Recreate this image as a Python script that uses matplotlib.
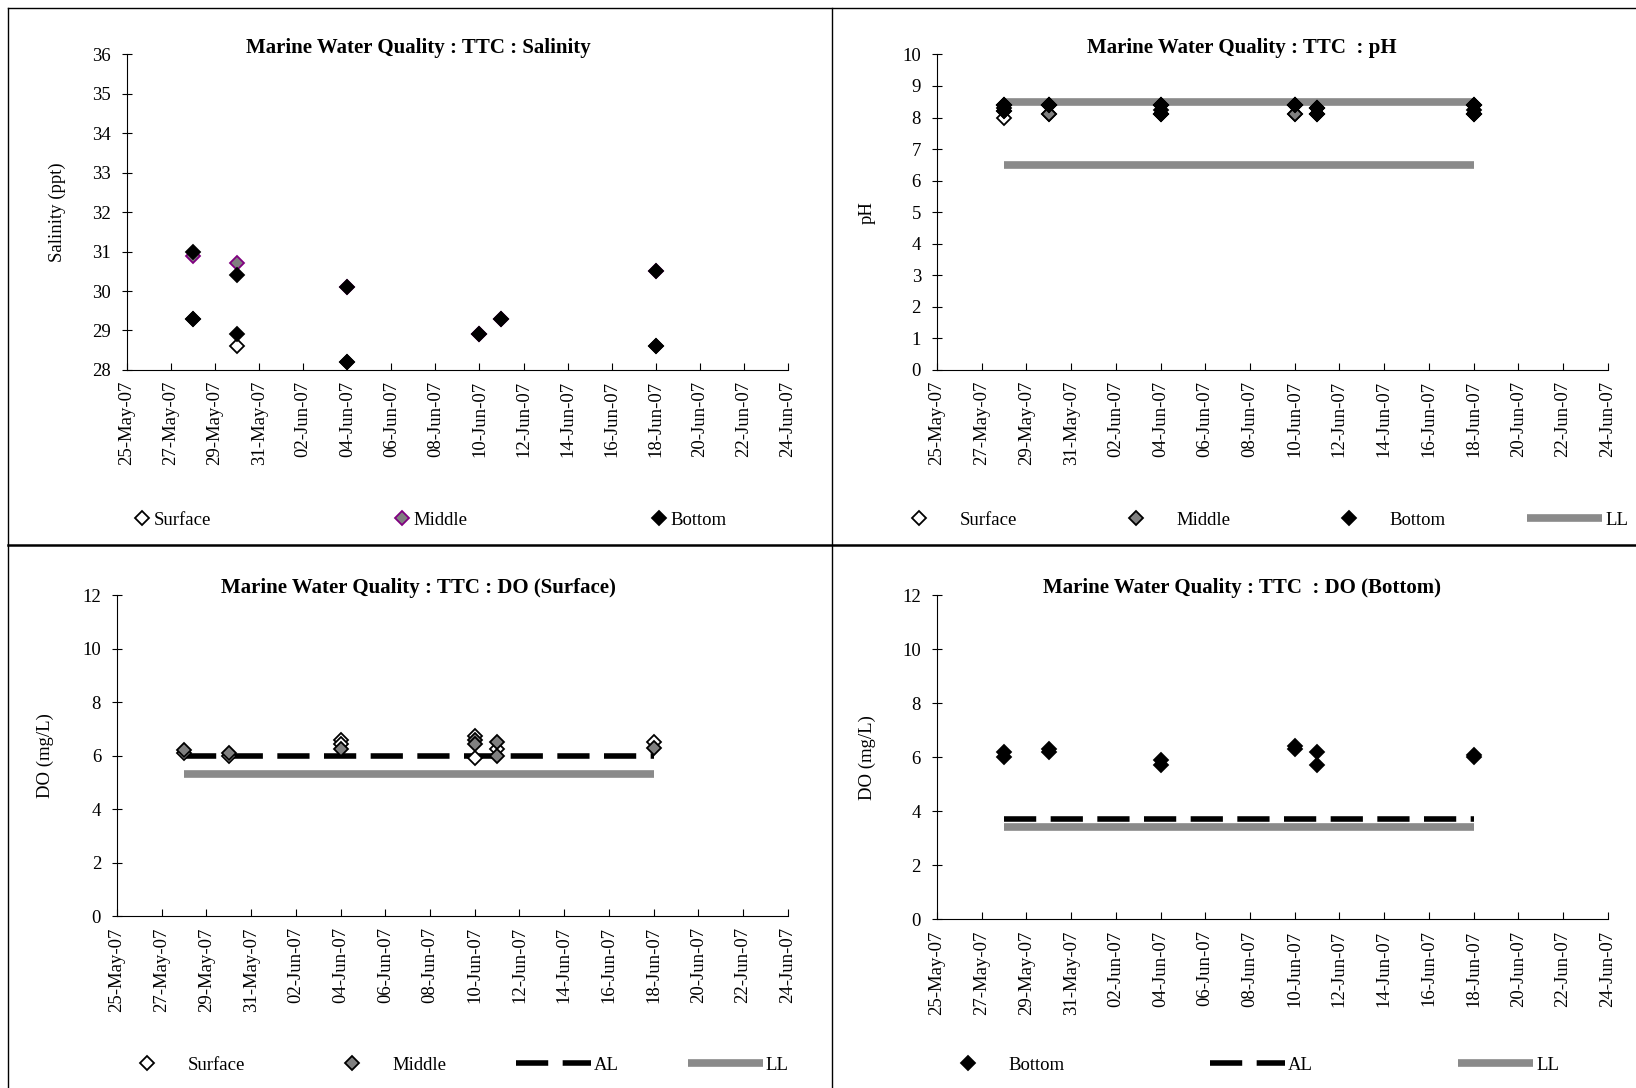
import matplotlib
matplotlib.use('Agg')
import matplotlib.pyplot as plt
import pandas as pd
from matplotlib.dates import DateFormatter
from matplotlib.lines import Line2D

plt.rcParams['font.family'] = ['Liberation Serif', 'DejaVu Serif']

# ---- data ----
sal_surface_dates = ['2007-05-28', '2007-05-30', '2007-06-04', '2007-06-10', '2007-06-11', '2007-06-18']
sal_surface = [29.3, 28.6, 28.2, 28.9, 29.3, 28.6]
sal_middle_dates = ['2007-05-28', '2007-05-30', '2007-06-04', '2007-06-10', '2007-06-11', '2007-06-18']
sal_middle = [30.9, 30.7, 30.1, 28.9, 29.3, 30.5]
sal_bottom_dates = ['2007-05-28', '2007-05-28', '2007-05-30', '2007-05-30', '2007-06-04', '2007-06-04',
                    '2007-06-10', '2007-06-11', '2007-06-18', '2007-06-18']
sal_bottom = [31.0, 29.3, 30.4, 28.9, 30.1, 28.2, 28.9, 29.3, 30.5, 28.6]

ph_dates = ['2007-05-28', '2007-05-28', '2007-05-30', '2007-05-30', '2007-06-04', '2007-06-04',
            '2007-06-10', '2007-06-10', '2007-06-11', '2007-06-11', '2007-06-18', '2007-06-18']
ph_surface = [8.0, 8.4, 8.4, 8.1, 8.1, 8.4, 8.4, 8.1, 8.1, 8.3, 8.1, 8.4]
ph_middle = [8.2, 8.4, 8.4, 8.1, 8.1, 8.4, 8.4, 8.1, 8.1, 8.3, 8.1, 8.4]
ph_bottom = [8.2, 8.4, 8.4, 8.4, 8.1, 8.4, 8.4, 8.4, 8.1, 8.3, 8.1, 8.4]
ph_dates_3 = ['2007-05-28', '2007-06-04', '2007-06-18']
ph_bottom_mid = [8.3, 8.25, 8.25]

limit_dates = ['2007-05-28', '2007-05-30', '2007-06-04', '2007-06-10', '2007-06-11', '2007-06-18']
ph_ul = [8.5, 8.5, 8.5, 8.5, 8.5, 8.5]
ph_ll = [6.5, 6.5, 6.5, 6.5, 6.5, 6.5]

dos_surface_dates = ['2007-05-28', '2007-05-30', '2007-06-04', '2007-06-04', '2007-06-10', '2007-06-10',
                     '2007-06-11', '2007-06-18']
dos_surface = [6.1, 6.0, 6.6, 6.45, 6.75, 5.9, 6.25, 6.5]
dos_middle_dates = ['2007-05-28', '2007-05-30', '2007-06-04', '2007-06-10', '2007-06-10', '2007-06-11',
                    '2007-06-11', '2007-06-18']
dos_middle = [6.2, 6.1, 6.25, 6.6, 6.45, 6.5, 6.0, 6.3]
dos_al = [6.0, 6.0, 6.0, 6.0, 6.0, 6.0]
dos_ll = [5.3, 5.3, 5.3, 5.3, 5.3, 5.3]

dob_dates = ['2007-05-28', '2007-05-28', '2007-05-30', '2007-05-30', '2007-06-04', '2007-06-04',
             '2007-06-10', '2007-06-10', '2007-06-11', '2007-06-11', '2007-06-18', '2007-06-18']
dob_bottom = [6.2, 6.0, 6.3, 6.2, 5.9, 5.7, 6.4, 6.3, 6.2, 5.7, 6.1, 6.0]
dob_al = [3.7, 3.7, 3.7, 3.7, 3.7, 3.7]
dob_ll = [3.4, 3.4, 3.4, 3.4, 3.4, 3.4]

x_ticks = pd.date_range('2007-05-25', '2007-06-24', freq='2D')

FS = 13.5
MS = 7
MEW = 1.3
GREY_LINE = '#8a8a8a'
AL_DASH = (5.8, 2.6)


def d(lst):
    return pd.to_datetime(lst)


def style_axes(ax, ymin, ymax, ystep, ylabel, lab_x):
    ax.set_xlim(x_ticks[0], x_ticks[-1])
    ax.set_ylim(ymin, ymax)
    ax.set_xticks(x_ticks)
    ax.xaxis.set_major_formatter(DateFormatter('%d-%b-%y'))
    ax.set_yticks(range(ymin, ymax + 1, ystep))
    for lab in ax.get_xticklabels():
        lab.set_rotation(90)
    ax.tick_params(axis='x', direction='in', length=5, pad=8, labelsize=FS)
    ax.tick_params(axis='y', direction='inout', length=7, pad=8, labelsize=FS)
    ax.spines['top'].set_visible(False)
    ax.spines['right'].set_visible(False)
    ax.set_ylabel(ylabel, fontsize=FS)
    ax.yaxis.set_label_coords(lab_x, 0.5)
    ax.patch.set_visible(False)


def surf(ax, x, y, **kw):
    return ax.plot(d(x), y, ls='none', marker='D', ms=MS, mfc='white', mec='black', mew=MEW, **kw)[0]


def mid(ax, x, y, edge='black', **kw):
    return ax.plot(d(x), y, ls='none', marker='D', ms=MS, mfc='#808080', mec=edge, mew=MEW, **kw)[0]


def bot(ax, x, y, **kw):
    return ax.plot(d(x), y, ls='none', marker='D', ms=MS, mfc='black', mec='black', mew=MEW, **kw)[0]


fig = plt.figure(figsize=(16.36, 10.88), dpi=100)

# panel 1 : salinity
ax1 = fig.add_axes([0.0776, 0.660, 0.404, 0.290])
h1 = surf(ax1, sal_surface_dates, sal_surface, label='Surface')
h2 = mid(ax1, sal_middle_dates, sal_middle, edge='#800080', label='Middle')
h3 = bot(ax1, sal_bottom_dates, sal_bottom, label='Bottom')
style_axes(ax1, 28, 36, 1, 'Salinity (ppt)', -0.092)
fig.legend(handles=[h1, h2, h3], loc='center left', bbox_to_anchor=(0.0813, 0.522), ncol=3,
           frameon=False, fontsize=FS, handlelength=1, handletextpad=0.1, columnspacing=9.7,
           borderpad=0, borderaxespad=0)

# panel 2 : pH
ax2 = fig.add_axes([0.5727, 0.660, 0.410, 0.290])
ax2.plot(d(limit_dates), ph_ul, color=GREY_LINE, lw=5.5, solid_capstyle='butt')
ll2 = ax2.plot(d(limit_dates), ph_ll, color=GREY_LINE, lw=5.5, solid_capstyle='butt', label='LL')[0]
p1 = surf(ax2, ph_dates, ph_surface, label='Surface')
p2 = mid(ax2, ph_dates, ph_middle, label='Middle')
p3 = bot(ax2, ph_dates, ph_bottom, label='Bottom')
bot(ax2, ph_dates_3, ph_bottom_mid)
style_axes(ax2, 0, 10, 1, 'pH', -0.091)
fig.legend(handles=[p1, p2, p3, ll2], loc='center left', bbox_to_anchor=(0.539, 0.522), ncol=4,
           frameon=False, fontsize=FS, handlelength=4, handletextpad=0.15, columnspacing=4.35,
           borderpad=0, borderaxespad=0)

# panel 3 : DO surface
ax3 = fig.add_axes([0.0715, 0.158, 0.410, 0.295])
ll3 = ax3.plot(d(limit_dates), dos_ll, color=GREY_LINE, lw=5.5, solid_capstyle='butt', label='LL')[0]
al3 = ax3.plot(d(limit_dates), dos_al, color='black', lw=4, dashes=AL_DASH, dash_capstyle='butt', label='AL')[0]
s1 = surf(ax3, dos_surface_dates, dos_surface, label='Surface')
s2 = mid(ax3, dos_middle_dates, dos_middle, label='Middle')
style_axes(ax3, 0, 12, 2, 'DO (mg/L)', -0.094)
fig.legend(handles=[s1, s2, al3, ll3], loc='center left', bbox_to_anchor=(0.0672, 0.021), ncol=4,
           frameon=False, fontsize=FS, handlelength=4, handletextpad=0.15, columnspacing=3.7,
           borderpad=0, borderaxespad=0)

# panel 4 : DO bottom
ax4 = fig.add_axes([0.5727, 0.155, 0.410, 0.298])
ll4 = ax4.plot(d(limit_dates), dob_ll, color=GREY_LINE, lw=5.5, solid_capstyle='butt', label='LL')[0]
al4 = ax4.plot(d(limit_dates), dob_al, color='black', lw=4, dashes=AL_DASH, dash_capstyle='butt', label='AL')[0]
b1 = bot(ax4, dob_dates, dob_bottom, label='Bottom')
style_axes(ax4, 0, 12, 2, 'DO (mg/L)', -0.091)
fig.legend(handles=[b1, al4, ll4], loc='center left', bbox_to_anchor=(0.569, 0.021), ncol=3,
           frameon=False, fontsize=FS, handlelength=4, handletextpad=0.15, columnspacing=7.75,
           borderpad=0, borderaxespad=0)

# titles
fig.text(0.256, 0.9555, 'Marine Water Quality : TTC : Salinity', ha='center', va='center',
         fontsize=15, fontweight='bold')
fig.text(0.759, 0.9555, 'Marine Water Quality : TTC  : pH', ha='center', va='center',
         fontsize=15, fontweight='bold')
fig.text(0.256, 0.4600, 'Marine Water Quality : TTC : DO (Surface)', ha='center', va='center',
         fontsize=15, fontweight='bold')
fig.text(0.759, 0.4600, 'Marine Water Quality : TTC  : DO (Bottom)', ha='center', va='center',
         fontsize=15, fontweight='bold')

# panel frames
fig.add_artist(Line2D([0.0049, 0.0049], [0, 0.9926], color='black', lw=1))
fig.add_artist(Line2D([0.0049, 1], [0.9926, 0.9926], color='black', lw=1))
fig.add_artist(Line2D([0.5086, 0.5086], [0, 0.9926], color='black', lw=1))
fig.add_artist(Line2D([0.0049, 1], [0.499, 0.499], color='black', lw=1.8))

fig.savefig('out.png', dpi=100)
